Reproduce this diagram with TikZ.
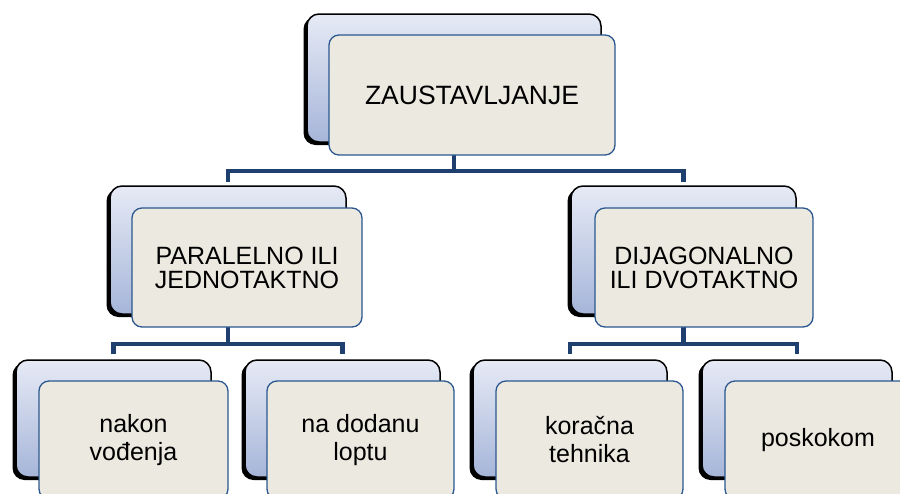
\documentclass[tikz,border=0pt]{standalone}
\usepackage{fontspec}
\setmainfont{Liberation Sans}
\usetikzlibrary{backgrounds}
\definecolor{connc}{HTML}{1F3F6E}
\definecolor{frontfill}{HTML}{ECEAE0}
\definecolor{frontline}{HTML}{2B5790}
\definecolor{bgtop}{HTML}{E6EAF5}
\definecolor{bgbot}{HTML}{A6B5D9}
\begin{document}
\begin{tikzpicture}[x=1pt,y=-1pt,
  backbox/.style={rectangle, rounded corners=12pt, draw=black, line width=1.5pt,
    top color=bgtop, bottom color=bgbot, inner sep=0pt,
    preaction={fill=black, transform canvas={shift={(-3.5pt,-3pt)}}}},
  frontbox/.style={rectangle, rounded corners=10pt, draw=frontline, line width=1.3pt,
    fill=frontfill, inner sep=2pt, align=center, text=black},
  conn/.style={draw=connc, line width=4.5pt},
  topfont/.style={font=\fontsize{26.5}{28}\selectfont},
  midfont/.style={font=\fontsize{25}{24}\selectfont},
  lowfont/.style={font=\fontsize{25}{28}\selectfont}]
\useasboundingbox (0,0) rectangle (900,493);
\clip (0,0) rectangle (900,493);

% back boxes
\node[backbox, minimum width=294pt, minimum height=128pt] (b0) at (454,78) {};
\node[backbox, minimum width=236pt, minimum height=128pt] (b1) at (228,250) {};
\node[backbox, minimum width=225pt, minimum height=128pt] (b2) at (683.5,250) {};
\node[backbox, minimum width=195pt, minimum height=117pt] (b3) at (113.5,418.5) {};
\node[backbox, minimum width=195pt, minimum height=117pt] (b4) at (342.5,418.5) {};
\node[backbox, minimum width=194pt, minimum height=117pt] (b5) at (570,418.5) {};
\node[backbox, minimum width=190pt, minimum height=117pt] (b6) at (797,418.5) {};

% front boxes
\node[frontbox, topfont, minimum width=286pt, minimum height=120pt] (f0) at (472,95) {ZAUSTAVLJANJE};
\node[frontbox, midfont, minimum width=230pt, minimum height=119pt] (f1) at (247,267.5) {PARALELNO ILI\\JEDNOTAKTNO};
\node[frontbox, midfont, minimum width=218pt, minimum height=119pt] (f2) at (704,267.5) {DIJAGONALNO\\ILI DVOTAKTNO};
\node[frontbox, lowfont, minimum width=189pt, minimum height=118pt] (f3) at (133.5,440) {nakon\\vođenja};
\node[frontbox, lowfont, minimum width=187pt, minimum height=118pt] (f4) at (360.5,440) {na dodanu\\loptu};
\node[frontbox, lowfont, minimum width=187pt, minimum height=118pt] (f5) at (589.5,440) {koračna\\tehnika};
\node[frontbox, lowfont, minimum width=186pt, minimum height=118pt] (f6) at (818,440) {poskokom};

% connectors
\coordinate (j0) at (454,171);
\coordinate (j1) at (228,344);
\coordinate (j2) at (683.5,344);
\begin{scope}[on background layer]
\fill[white] (0,0) rectangle (900,493);
\draw[conn] (b0.center) -- (j0);
\draw[conn, shorten >=3pt] (j0) -| (b1.north);
\draw[conn, shorten >=3pt] (j0) -| (b2.north);
\draw[conn] (b1.center) -- (j1);
\draw[conn, shorten >=5pt] (j1) -| (b3.north);
\draw[conn, shorten >=5pt] (j1) -| (b4.north);
\draw[conn] (b2.center) -- (j2);
\draw[conn, shorten >=5pt] (j2) -| (b5.north);
\draw[conn, shorten >=5pt] (j2) -| (b6.north);
\end{scope}
\end{tikzpicture}
\end{document}
